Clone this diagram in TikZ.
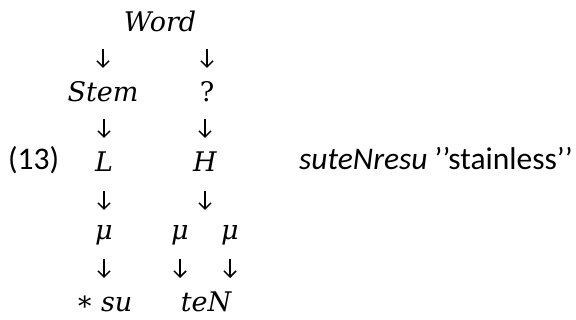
\documentclass[tikz,border=0pt]{standalone}
\usepackage{fontspec}
\setmainfont{Carlito}
\newfontfamily\dvsfont{DejaVu Serif}
\usetikzlibrary{arrows.meta}
\begin{document}
\begin{tikzpicture}[x=1pt,y=-1pt,
  m/.style={anchor=base, font=\fontsize{27}{30}\dvsfont\itshape, inner sep=0pt},
  t/.style={anchor=base west, font=\fontsize{31.5}{34}\selectfont, inner sep=0pt},
  arr/.style={-{Straight Barb[length=6pt,width=12pt,line width=1.5pt]}, line width=1.6pt}]
\useasboundingbox (0,0) rectangle (576,320);
% row 1
\node[m] (word) at (160,32) {Word};
% row 2
\node[m] (stem) at (103,102) {Stem};
\node[m, font=\fontsize{27}{30}\dvsfont] (q) at (207,102) {?};
% row 3
\node[t] (num) at (8,170) {(13)};
\node[m] (L) at (104,172) {L};
\node[m] (H) at (205,172) {H};
\node[t] (gloss) at (299,170) {\textit{suteNresu} ’’stainless’’};
% row 4
\node[m] (mu1) at (104,240) {μ};
\node[m] (mu2) at (180,240) {μ};
\node[m] (mu3) at (230,240) {μ};
% row 5
\node[m] (su) at (104,312) {{\upshape\raisebox{1pt}{∗}}\hspace{7pt}su};
\node[m] (teN) at (206,312) {teN};
% arrows
\draw[arr] (word.base -| stem) ++(0,17) -- ++(0,19);
\draw[arr] (word.base -| q) ++(0,17) -- ++(0,19);
\draw[arr] (stem.base -| L) ++(0,17) -- ++(0,19);
\draw[arr] (q.base -| H) ++(0,17) -- ++(0,19);
\draw[arr] (L.base -| mu1) ++(0,19) -- ++(0,19);
\draw[arr] (H.base -| H) ++(0,19) -- ++(0,19);
\draw[arr] (mu1.base) ++(0,19) -- ++(0,19);
\draw[arr] (mu2.base) ++(0,19) -- ++(0,19);
\draw[arr] (mu3.base) ++(0,19) -- ++(0,19);
\end{tikzpicture}
\end{document}
